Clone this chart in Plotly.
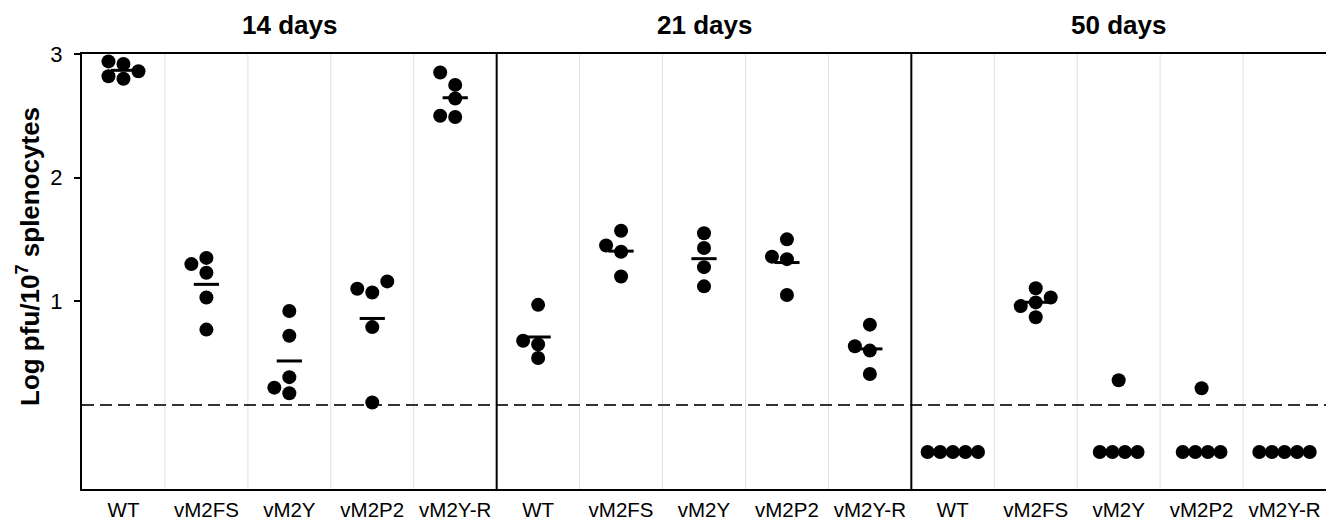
import numpy as np
import plotly.graph_objects as go

# ---------------- data ----------------
groups = ["WT", "vM2FS", "vM2Y", "vM2P2", "vM2Y-R"]
days = ["14 days", "21 days", "50 days"]

day14 = [
    [2.92, 2.82, 2.94, 2.80, 2.86],
    [1.35, 1.30, 1.23, 1.03, 0.77],
    [0.92, 0.72, 0.385, 0.30, 0.255],
    [1.16, 1.07, 1.10, 0.79, 0.18],
    [2.85, 2.75, 2.64, 2.49, 2.50],
]
day21 = [
    [0.97, 0.65, 0.68, 0.54],
    [1.57, 1.40, 1.45, 1.20],
    [1.55, 1.43, 1.275, 1.12],
    [1.50, 1.34, 1.36, 1.05],
    [0.81, 0.60, 0.635, 0.41],
]
day50 = [
    [-0.22, -0.22, -0.22, -0.22, -0.22],
    [1.105, 0.99, 1.03, 0.96, 0.87],
    [0.36, -0.22, -0.22, -0.22, -0.22],
    [0.295, -0.22, -0.22, -0.22, -0.22],
    [-0.22, -0.22, -0.22, -0.22, -0.22],
]
detection_limit = 0.16
y_ticks = [1, 2, 3]
y_range = [-0.52, 3.0]

# ---------------- layout constants ----------------
# target plot box in page pixels: left 82, right 1326, top 54, bottom 489
# the page body has an 8px default margin, so the figure starts at (8, 8)
OFF = 8
W, H = 1319, 514
ML, MT = 82 - OFF, 54 - OFF
MR = (OFF + W) - 1326
MB = (OFF + H) - 489
PLOT_W = W - ML - MR
PLOT_H = H - MT - MB
N_CAT = len(groups) * len(days)
PX_X = PLOT_W / N_CAT
PX_Y = PLOT_H / (y_range[1] - y_range[0])
DIAM = 14
FONT = "Liberation Sans, Arial, Helvetica, sans-serif"


def swarm(vals):
    """Simple beeswarm: x offsets (category units) so markers don't overlap."""
    offs = [None] * len(vals)
    placed = []
    seen = {}
    for i, v in enumerate(vals):
        seen.setdefault(v, []).append(i)
    for v, idx in seen.items():
        if len(idx) > 1:
            n = len(idx)
            for k, i in enumerate(idx):
                offs[i] = (k - (n - 1) / 2) * 12.6
                placed.append((offs[i], v * PX_Y))
    order = sorted([i for i in range(len(vals)) if offs[i] is None], key=lambda i: vals[i])
    for i in order:
        yp = vals[i] * PX_Y
        xo = 0
        for k in [0, -1, 1, -2, 2, -3, 3]:
            xo = k * 15
            if all(np.hypot(xo - px, yp - py) >= DIAM - 0.5 for px, py in placed):
                break
        offs[i] = xo
        placed.append((xo, yp))
    return [o / PX_X for o in offs]


xs, ys, mx, my = [], [], [], []
for d, data in enumerate([day14, day21, day50]):
    for g, vals in enumerate(data):
        c = d * len(groups) + g
        for o, v in zip(swarm(vals), vals):
            xs.append(c + o)
            ys.append(v)
        m = float(np.mean(vals))
        if m > detection_limit:
            mx.append(c)
            my.append(m)

fig = go.Figure()
fig.add_trace(go.Scatter(
    x=mx, y=my, mode="markers",
    marker=dict(symbol="line-ew", size=18, line=dict(width=3, color="black")),
    hoverinfo="skip"))
fig.add_trace(go.Scatter(
    x=xs, y=ys, mode="markers",
    marker=dict(size=DIAM, color="black", line=dict(width=0))))

shapes = []
for b in np.arange(0.5, N_CAT - 0.5, 1.0):
    sep = (round(b + 0.5) % len(groups)) == 0
    shapes.append(dict(type="line", xref="x", yref="paper", x0=b, x1=b, y0=0, y1=1,
                       line=dict(color="black" if sep else "#e0e0e0", width=2 if sep else 1),
                       layer="below" if not sep else "above"))
shapes.append(dict(type="line", xref="paper", yref="y", x0=0, x1=1,
                   y0=detection_limit, y1=detection_limit,
                   line=dict(color="#333333", width=2, dash="12px,6px"), layer="below"))

annotations = []
for d, name in enumerate(days):
    annotations.append(dict(text=f"<b>{name}</b>", x=d * len(groups) + (len(groups) - 1) / 2,
                            xref="x", yref="paper", y=1 + (54 - 25) / PLOT_H, yanchor="middle",
                            showarrow=False, font=dict(size=26, family=FONT, color="black")))
annotations.append(dict(text="<b>Log pfu/10<sup>7</sup> splenocytes</b>", textangle=-90,
                        xref="paper", yref="paper", x=0, xshift=-54, xanchor="center",
                        y=1 - (257 - 54) / PLOT_H, yanchor="middle", showarrow=False,
                        font=dict(size=26, family=FONT, color="black")))

tick_text = groups * len(days)
fig.update_layout(
    width=W, height=H, margin=dict(l=ML, r=MR, t=MT, b=MB, autoexpand=False),
    plot_bgcolor="white", paper_bgcolor="white", showlegend=False,
    font=dict(family=FONT, color="black"),
    shapes=shapes, annotations=annotations,
    xaxis=dict(range=[-0.5, N_CAT - 0.5], tickmode="array", tickvals=list(range(N_CAT)),
               ticktext=tick_text, showgrid=False, zeroline=False, showline=True,
               linewidth=2, linecolor="black", mirror=True, ticks="",
               tickfont=dict(size=20.5, family=FONT, color="black"), ticklabelstandoff=1),
    yaxis=dict(range=y_range, tickmode="array", tickvals=y_ticks,
               ticktext=[str(t) for t in y_ticks], showgrid=False, zeroline=False,
               showline=True, linewidth=2, linecolor="black", mirror=True,
               ticks="outside", ticklen=6, tickwidth=2, tickcolor="black",
               tickfont=dict(size=22, family=FONT, color="black"), ticklabelstandoff=7),
)

fig.write_html("out.html")
